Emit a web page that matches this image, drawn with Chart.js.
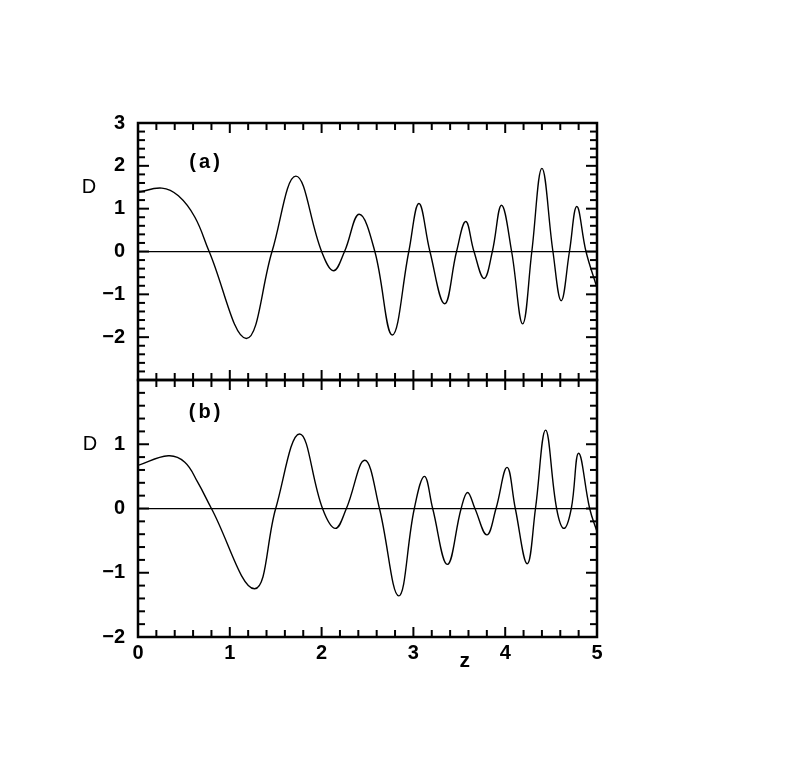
<!DOCTYPE html>
<html lang="en">
<head>
  <meta charset="UTF-8">
  <title>D versus z</title>
  <style>
    body {
      margin: 0;
      background: #fff;
    }
    #wrap {
      width: 795px;
      height: 784px;
    }
  </style>
  <script src="https://cdn.jsdelivr.net/npm/chart.js@4.4.0/dist/chart.umd.min.js"></script>
</head>
<body>
  <div id="wrap">
    <canvas id="chart" width="795" height="784"></canvas>
  </div>

  <script>
    // panel (a) : extrema, zero crossings and a few shoulder points
    const zA = [0, 0.26, 0.44, 0.62, 0.775, 1.18, 1.46, 1.72, 2.0, 2.13, 2.25, 2.41, 2.58, 2.77, 2.95, 3.06, 3.18, 3.34,
                3.47, 3.57, 3.66, 3.77, 3.86, 3.96, 4.07, 4.19, 4.29, 4.40, 4.52, 4.61, 4.70, 4.78, 4.88, 5.0];
    const dA = [1.38, 1.48, 1.3, 0.8, 0, -2.03, 0, 1.76, 0, -0.45, 0, 0.87, 0, -1.95, 0, 1.12, 0, -1.22,
                0, 0.7, 0, -0.63, 0, 1.08, 0, -1.69, 0, 1.94, 0, -1.15, 0, 1.05, 0, -0.85];

    // panel (b)
    const zB = [0, 0.33, 0.51, 0.65, 0.8, 1.27, 1.5, 1.76, 2.01, 2.15, 2.27, 2.47, 2.63, 2.84, 3.01, 3.12, 3.21, 3.37,
                3.52, 3.59, 3.67, 3.8, 3.9, 4.02, 4.11, 4.24, 4.33, 4.44, 4.56, 4.64, 4.72, 4.8, 4.92, 5.0];
    const dB = [0.67, 0.82, 0.72, 0.41, 0, -1.25, 0, 1.16, 0, -0.31, 0, 0.75, 0, -1.36, 0, 0.5, 0, -0.87,
                0, 0.25, 0, -0.41, 0, 0.64, 0, -0.86, 0, 1.22, 0, -0.31, 0, 0.86, 0, -0.36];

    // axis ranges
    const zRange = [0, 5];
    const rangeA = [-3, 3];
    const rangeB = [-2, 2];

    const FONT = '"Liberation Sans", Arial, sans-serif';

    const isWhole = v => Math.abs(v - Math.round(v)) < 1e-6;
    const fmt = v => {
      const r = Math.round(v);
      return r < 0 ? '\u2212' + Math.abs(r) : String(r);
    };

    // frame, inward ticks and the panel texts
    const framePlugin = {
      id: 'frame',
      afterDraw(chart) {
        const { ctx, chartArea: ca, scales } = chart;
        const x = scales.x;
        const line = (x1, y1, x2, y2) => {
          ctx.beginPath();
          ctx.moveTo(x1, y1);
          ctx.lineTo(x2, y2);
          ctx.stroke();
        };
        ctx.save();
        ctx.strokeStyle = '#000';
        [scales.ya, scales.yb].forEach(s => {
          const top = s.getPixelForValue(s.max);
          const bot = s.getPixelForValue(s.min);
          ctx.lineWidth = 2.5;
          ctx.strokeRect(ca.left, top, ca.right - ca.left, bot - top);
          ctx.lineWidth = 2;
          s.ticks.forEach(t => {
            const py = s.getPixelForValue(t.value);
            const len = isWhole(t.value) ? 11 : 7;
            line(ca.left, py, ca.left + len, py);
            line(ca.right, py, ca.right - len, py);
          });
          x.ticks.forEach(t => {
            const px = x.getPixelForValue(t.value);
            const len = isWhole(t.value) ? 10 : 7;
            line(px, top, px, top + len);
            line(px, bot, px, bot - len);
          });
        });

        ctx.fillStyle = '#000';
        ctx.textAlign = 'center';
        ctx.textBaseline = 'middle';
        ctx.font = 'bold 20px ' + FONT;
        ctx.letterSpacing = '3px';
        ctx.fillText('(a)', x.getPixelForValue(0.72) + 2, scales.ya.getPixelForValue(2.08));
        ctx.fillText('(b)', x.getPixelForValue(0.72) + 2, scales.yb.getPixelForValue(1.49));
        ctx.letterSpacing = '0px';
        ctx.font = '20px ' + FONT;
        ctx.fillText('D', ca.left - 49, scales.ya.getPixelForValue(1.5));
        ctx.fillText('D', ca.left - 48, scales.yb.getPixelForValue(1.0));
        ctx.font = 'bold 21px ' + FONT;
        ctx.fillText('z', x.getPixelForValue(3.56), ca.bottom + 24);
        ctx.restore();
      }
    };

    const yScale = (range, hideValue) => ({
      type: 'linear',
      position: 'left',
      stack: 'panels',
      stackWeight: 1,
      offset: false,
      min: range[0],
      max: range[1],
      afterFit: s => { s.width = 138; },
      border: { display: false },
      grid: {
        drawTicks: false,
        color: c => (c.tick && Math.abs(c.tick.value) < 1e-6 ? '#000' : 'rgba(0,0,0,0)'),
        lineWidth: 1.3
      },
      ticks: {
        stepSize: 0.2,
        autoSkip: false,
        padding: 13,
        color: '#000',
        font: { family: FONT, size: 20, weight: 'bold' },
        callback: v => (isWhole(v) && Math.round(v) !== hideValue ? fmt(v) : '')
      }
    });

    new Chart(document.getElementById('chart'), {
      type: 'scatter',
      data: {
        datasets: [
          {
            label: '(a)',
            data: zA.map((z, i) => ({ x: z, y: dA[i] })),
            yAxisID: 'ya'
          },
          {
            label: '(b)',
            data: zB.map((z, i) => ({ x: z, y: dB[i] })),
            yAxisID: 'yb'
          }
        ]
      },
      options: {
        responsive: false,
        animation: false,
        showLine: true,
        layout: {
          autoPadding: false,
          padding: { left: 0, top: 123, right: 198, bottom: 87 }
        },
        elements: {
          point: { radius: 0 },
          line: {
            borderColor: '#000',
            borderWidth: 1.4,
            tension: 0.4
          }
        },
        plugins: {
          legend: { display: false },
          tooltip: { enabled: false }
        },
        scales: {
          x: {
            type: 'linear',
            min: zRange[0],
            max: zRange[1],
            afterFit: s => { s.height = 60; },
            border: { display: false },
            grid: { display: false, drawTicks: false },
            ticks: {
              stepSize: 0.2,
              autoSkip: false,
              maxRotation: 0,
              padding: 4,
              color: '#000',
              font: { family: FONT, size: 20, weight: 'bold' },
              callback: v => (isWhole(v) ? fmt(v) : '')
            }
          },
          yb: yScale(rangeB, 2),
          ya: yScale(rangeA, -3)
        }
      },
      plugins: [framePlugin]
    });
  </script>
</body>
</html>
